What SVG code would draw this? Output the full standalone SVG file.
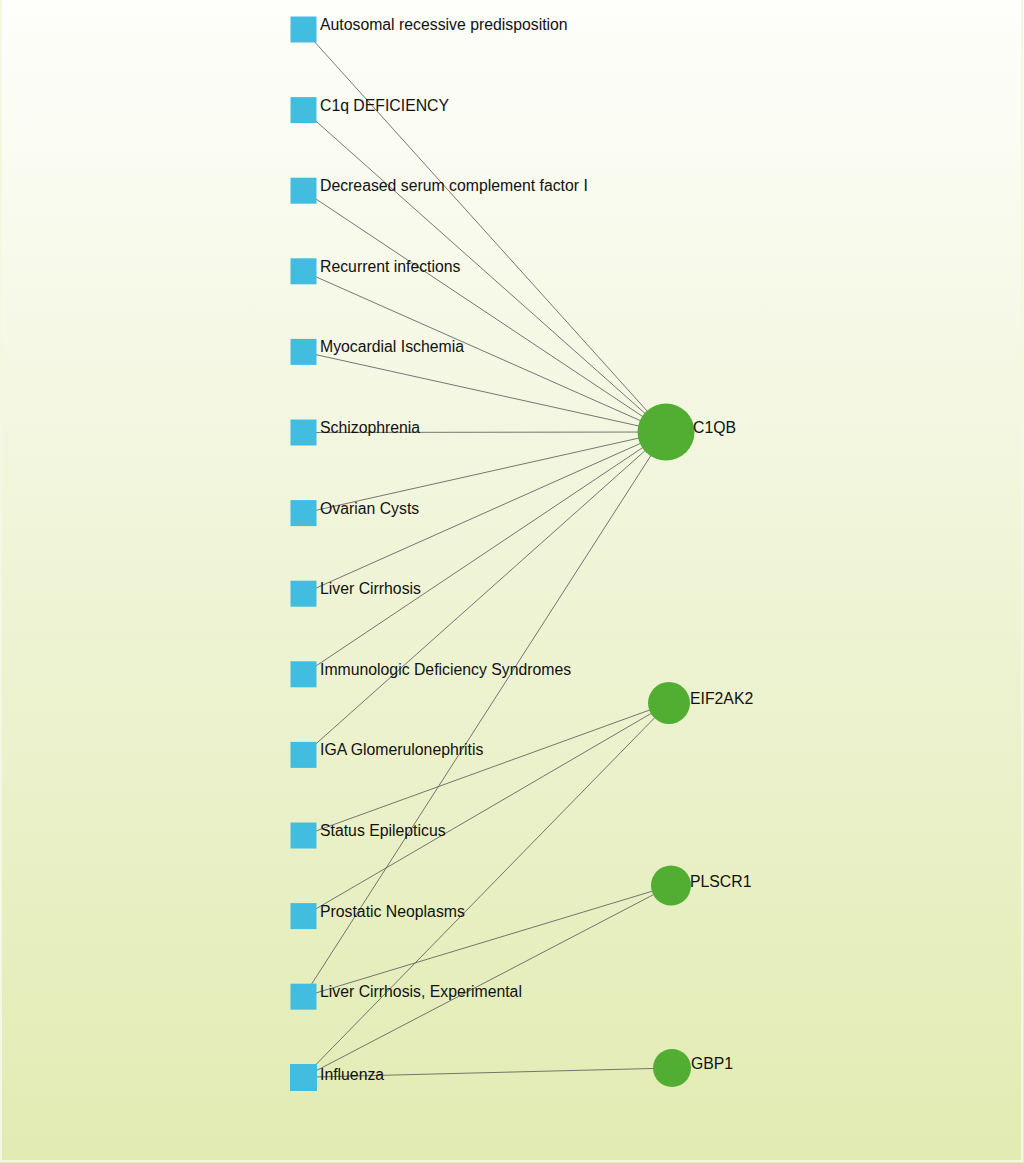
<svg xmlns="http://www.w3.org/2000/svg" width="1024" height="1163" viewBox="0 0 1024 1163">
<defs>
<linearGradient id="bg" x1="0" y1="0" x2="0" y2="1">
<stop offset="0" stop-color="#fefefb"/>
<stop offset="0.5" stop-color="#eff4d6"/>
<stop offset="1" stop-color="#e2ebb2"/>
</linearGradient>
</defs>
<style>
.e{stroke:#555;stroke-width:0.8;fill:none}
.sq{fill:#43bddf}
.g{fill:#52ae33}
text{font-family:"Liberation Sans",Arial,sans-serif;font-size:15.8px;fill:#111}
</style>
<rect x="0" y="0" width="1024" height="1163" fill="url(#bg)"/>
<rect x="1" y="-1" width="1021" height="1162" fill="none" stroke="#f4f7e2" stroke-width="2"/>
<g id="connectors">
<line class="e" x1="303.5" y1="29.5" x2="666" y2="432"/>
<line class="e" x1="303.5" y1="110.1" x2="666" y2="432"/>
<line class="e" x1="303.5" y1="190.7" x2="666" y2="432"/>
<line class="e" x1="303.5" y1="271.3" x2="666" y2="432"/>
<line class="e" x1="303.5" y1="351.9" x2="666" y2="432"/>
<line class="e" x1="303.5" y1="432.5" x2="666" y2="432"/>
<line class="e" x1="303.5" y1="513.1" x2="666" y2="432"/>
<line class="e" x1="303.5" y1="593.7" x2="666" y2="432"/>
<line class="e" x1="303.5" y1="674.3" x2="666" y2="432"/>
<line class="e" x1="303.5" y1="754.9" x2="666" y2="432"/>
<line class="e" x1="303.5" y1="996.7" x2="666" y2="432"/>
<line class="e" x1="303.5" y1="835.5" x2="669" y2="703"/>
<line class="e" x1="303.5" y1="916.1" x2="669" y2="703"/>
<line class="e" x1="303.5" y1="1077.3" x2="669" y2="703"/>
<line class="e" x1="303.5" y1="996.7" x2="671" y2="885.5"/>
<line class="e" x1="303.5" y1="1077.3" x2="671" y2="885.5"/>
<line class="e" x1="303.5" y1="1077.3" x2="672" y2="1068"/>
</g>
<g id="n0"><rect class="sq" x="290.5" y="16.5" width="26" height="26"/><text x="320" y="30">Autosomal recessive predisposition</text></g>
<g id="n1"><rect class="sq" x="290.5" y="97.1" width="26" height="26"/><text x="320" y="110.6">C1q DEFICIENCY</text></g>
<g id="n2"><rect class="sq" x="290.5" y="177.7" width="26" height="26"/><text x="320" y="191.2">Decreased serum complement factor I</text></g>
<g id="n3"><rect class="sq" x="290.5" y="258.3" width="26" height="26"/><text x="320" y="271.8">Recurrent infections</text></g>
<g id="n4"><rect class="sq" x="290.5" y="338.9" width="26" height="26"/><text x="320" y="352.4">Myocardial Ischemia</text></g>
<g id="n5"><rect class="sq" x="290.5" y="419.5" width="26" height="26"/><text x="320" y="433">Schizophrenia</text></g>
<g id="n6"><rect class="sq" x="290.5" y="500.1" width="26" height="26"/><text x="320" y="513.6">Ovarian Cysts</text></g>
<g id="n7"><rect class="sq" x="290.5" y="580.7" width="26" height="26"/><text x="320" y="594.2">Liver Cirrhosis</text></g>
<g id="n8"><rect class="sq" x="290.5" y="661.3" width="26" height="26"/><text x="320" y="674.8">Immunologic Deficiency Syndromes</text></g>
<g id="n9"><rect class="sq" x="290.5" y="741.9" width="26" height="26"/><text x="320" y="755.4">IGA Glomerulonephritis</text></g>
<g id="n10"><rect class="sq" x="290.5" y="822.5" width="26" height="26"/><text x="320" y="836">Status Epilepticus</text></g>
<g id="n11"><rect class="sq" x="290.5" y="903.1" width="26" height="26"/><text x="320" y="916.6">Prostatic Neoplasms</text></g>
<g id="n12"><rect class="sq" x="290.5" y="983.7" width="26" height="26"/><text x="320" y="997.2">Liver Cirrhosis, Experimental</text></g>
<g id="n13"><rect class="sq" x="290" y="1064" width="27" height="27"/><text x="320" y="1080">Influenza</text></g>
<g id="C1QB"><circle class="g" cx="666" cy="432" r="28.5"/><text x="693" y="433">C1QB</text></g>
<g id="EIF2AK2"><circle class="g" cx="669" cy="703" r="21"/><text x="690" y="704">EIF2AK2</text></g>
<g id="PLSCR1"><circle class="g" cx="671" cy="885.5" r="20"/><text x="690" y="887">PLSCR1</text></g>
<g id="GBP1"><circle class="g" cx="672" cy="1068" r="19"/><text x="691" y="1068.5">GBP1</text></g>
</svg>
